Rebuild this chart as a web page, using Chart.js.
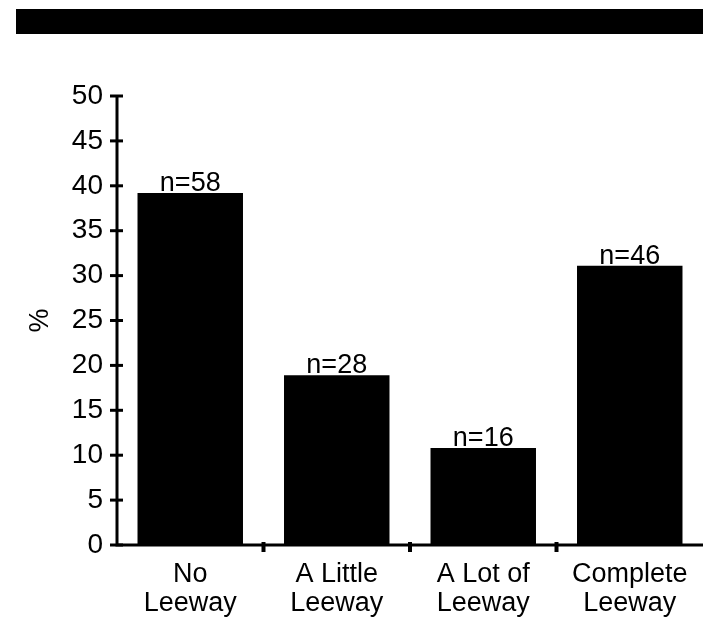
<!DOCTYPE html>
<html>
<head>
<meta charset="utf-8">
<script src="https://cdn.jsdelivr.net/npm/chart.js@4/dist/chart.umd.min.js"></script>
<style>
  html, body { margin: 0; padding: 0; background: #fff; }
  #wrap { position: relative; width: 703px; height: 623px; }
  #topRule { position: absolute; left: 16px; top: 9px; width: 687px; height: 25px; background: #000; }
  #chart { position: absolute; left: 0; top: 0; }
</style>
</head>
<body>
<div id="wrap">
  <div id="topRule"></div>
  <canvas id="chart" width="703" height="623"></canvas>
</div>
<script>
// chart data
const categories = [["No", "Leeway"], ["A Little", "Leeway"], ["A Lot of", "Leeway"], ["Complete", "Leeway"]];
const percentValues = [39.2, 18.9, 10.8, 31.1];
const countLabels = ["n=58", "n=28", "n=16", "n=46"];
const yTicks = [0, 5, 10, 15, 20, 25, 30, 35, 40, 45, 50];

const FONT = '"Liberation Sans", Arial, Helvetica, sans-serif';
Chart.defaults.font.family = FONT;
Chart.defaults.color = '#000';

// axis lines, cross ticks and the n= labels
const axisPlugin = {
  id: 'axisPlugin',
  afterDatasetsDraw(chart) {
    const { ctx, chartArea, scales } = chart;
    const x = scales.x, y = scales.y;
    ctx.save();
    ctx.strokeStyle = '#000';
    ctx.lineWidth = 3;
    ctx.beginPath();
    ctx.moveTo(chartArea.left, y.getPixelForValue(50) - 1);
    ctx.lineTo(chartArea.left, y.getPixelForValue(0));
    ctx.lineTo(chartArea.right, y.getPixelForValue(0));
    ctx.stroke();

    // y cross ticks
    yTicks.forEach(v => {
      const py = y.getPixelForValue(v);
      ctx.beginPath();
      ctx.moveTo(chartArea.left - 7, py);
      ctx.lineTo(chartArea.left + 6, py);
      ctx.stroke();
    });

    // x boundary ticks
    ctx.lineWidth = 4;
    const half = (x.getPixelForValue(1) - x.getPixelForValue(0)) / 2;
    for (let i = 0; i < categories.length - 1; i++) {
      const px = x.getPixelForValue(i) + half;
      ctx.beginPath();
      ctx.moveTo(px, y.getPixelForValue(0) - 3);
      ctx.lineTo(px, y.getPixelForValue(0) + 7);
      ctx.stroke();
    }

    // counts above bars
    ctx.fillStyle = '#000';
    ctx.font = '27px ' + FONT;
    ctx.textAlign = 'center';
    ctx.textBaseline = 'alphabetic';
    chart.getDatasetMeta(0).data.forEach((bar, i) => {
      ctx.fillText(countLabels[i], bar.x, bar.y - 2);
    });
    ctx.restore();
  }
};

new Chart(document.getElementById('chart'), {
  type: 'bar',
  data: {
    labels: categories,
    datasets: [{
      data: percentValues,
      backgroundColor: '#000',
      borderWidth: 0,
      barPercentage: 0.72,
      categoryPercentage: 1
    }]
  },
  options: {
    responsive: false,
    animation: false,
    layout: { padding: { top: 96, left: 20, right: 0, bottom: 0 } },
    plugins: { legend: { display: false }, tooltip: { enabled: false } },
    scales: {
      x: {
        offset: true,
        grid: { display: false, drawTicks: false },
        border: { display: false },
        ticks: { font: { size: 27, lineHeight: 1.07 }, padding: 15, maxRotation: 0, autoSkip: false },
        afterFit(scale) { scale.height = 78; }
      },
      y: {
        min: 0,
        max: 50,
        grid: { display: false, drawTicks: false },
        border: { display: false },
        ticks: { stepSize: 5, font: { size: 28 }, padding: 14 },
        title: { display: true, text: '%', font: { size: 27 }, padding: 4 },
        afterFit(scale) { scale.width = 97; }
      }
    }
  },
  plugins: [axisPlugin]
});
</script>
</body>
</html>
